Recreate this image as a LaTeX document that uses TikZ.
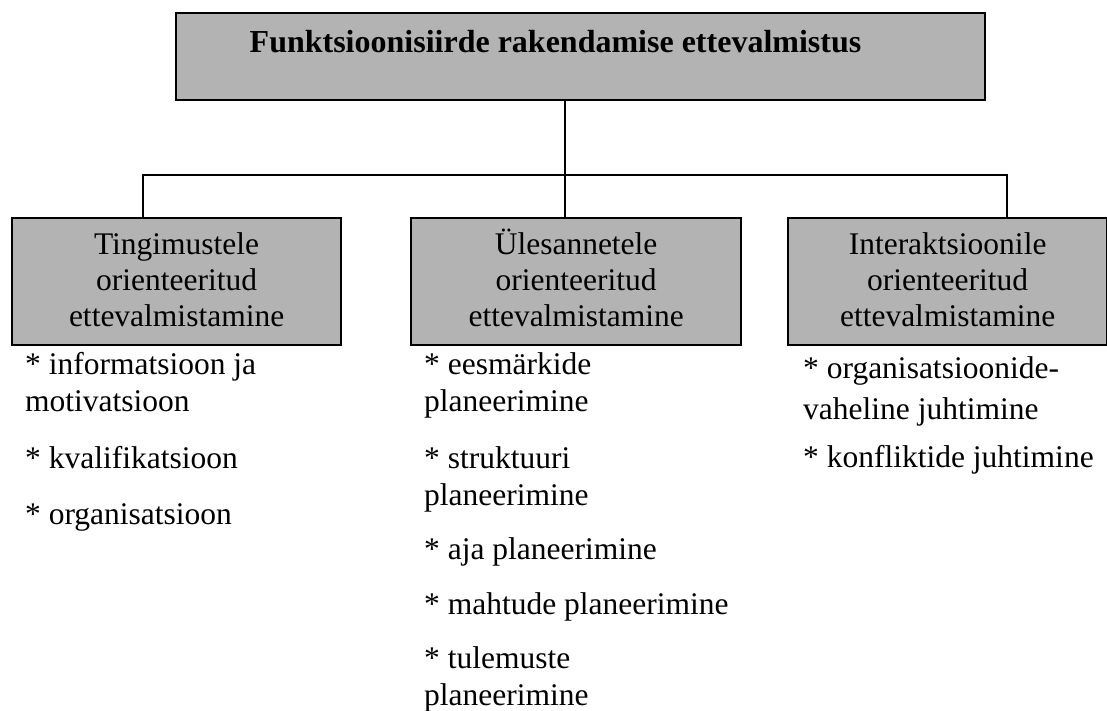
\documentclass[tikz,border=0pt]{standalone}
\usepackage{fontspec}
\setmainfont{Liberation Serif}
\definecolor{boxgray}{RGB}{179,179,179}
\tikzset{
  greybox/.style={draw=black, fill=boxgray, line width=2.2pt, rectangle,
    inner sep=0pt, anchor=north west},
  boxtext/.style={align=center, inner sep=0pt, anchor=base,
    font=\fontsize{31.5}{36}\selectfont},
  itemtext/.style={align=left, inner sep=0pt, anchor=base west,
    font=\fontsize{31.5}{37}\selectfont},
  link/.style={draw=black, line width=1.6pt},
}
\begin{document}
\begin{tikzpicture}[x=1pt, y=-1pt]
\useasboundingbox (0,0) rectangle (1107,710);

% top box and its title
\node[greybox, minimum width=809pt, minimum height=87pt] (top) at (175,12) {};
\node[inner sep=0pt, anchor=base, font=\bfseries\fontsize{32}{38}\selectfont]
  (title) at (555.5,52) {Funktsioonisiirde rakendamise ettevalmistus};

% second-level boxes; their texts sit on the baseline of the last line
\node[greybox, minimum width=329pt, minimum height=127pt] (b1) at (11,217) {};
\node[greybox, minimum width=330pt, minimum height=127pt] (b2) at (410,217) {};
\node[greybox, minimum width=319pt, minimum height=127pt] (b3) at (787,217) {};
\coordinate (tb) at (0,326);
\node[boxtext] (t1) at (b1.center |- tb) {Tingimustele\\orienteeritud\\ettevalmistamine};
\node[boxtext] (t2) at (b2.center |- tb) {Ülesannetele\\orienteeritud\\ettevalmistamine};
\node[boxtext] (t3) at (b3.center |- tb) {Interaktsioonile\\orienteeritud\\ettevalmistamine};

% connector junctions
\coordinate (j1) at (143,175);
\coordinate (j2) at (565,175);
\coordinate (j3) at (1007,175);
\draw[link] (j2 |- top.south) -- (j2);
\draw[link] (j1 |- b1.north) -- (j1) -- (j3) -- (j3 |- b3.north);
\draw[link] (j2) -- (j2 |- b2.north);

% items (each node sits on the baseline of its last line)
\node[itemtext] (a1) at (25,411) {* informatsioon ja\\motivatsioon};
\node[itemtext] (a2) at (25,468) {* kvalifikatsioon};
\node[itemtext] (a3) at (25,524) {* organisatsioon};

\node[itemtext] (c1) at (424,411) {* eesmärkide\\planeerimine};
\node[itemtext] (c2) at (424,505) {* struktuuri\\planeerimine};
\node[itemtext] (c3) at (424,559) {* aja planeerimine};
\node[itemtext] (c4) at (424,614) {* mahtude planeerimine};
\node[itemtext] (c5) at (424,705) {* tulemuste\\planeerimine};

\node[itemtext, font=\fontsize{31.5}{41}\selectfont] (d1) at (803,419)
  {* organisatsioonide-\\vaheline juhtimine};
\node[itemtext] (d2) at (803,467) {* konfliktide juhtimine};
\end{tikzpicture}
\end{document}
